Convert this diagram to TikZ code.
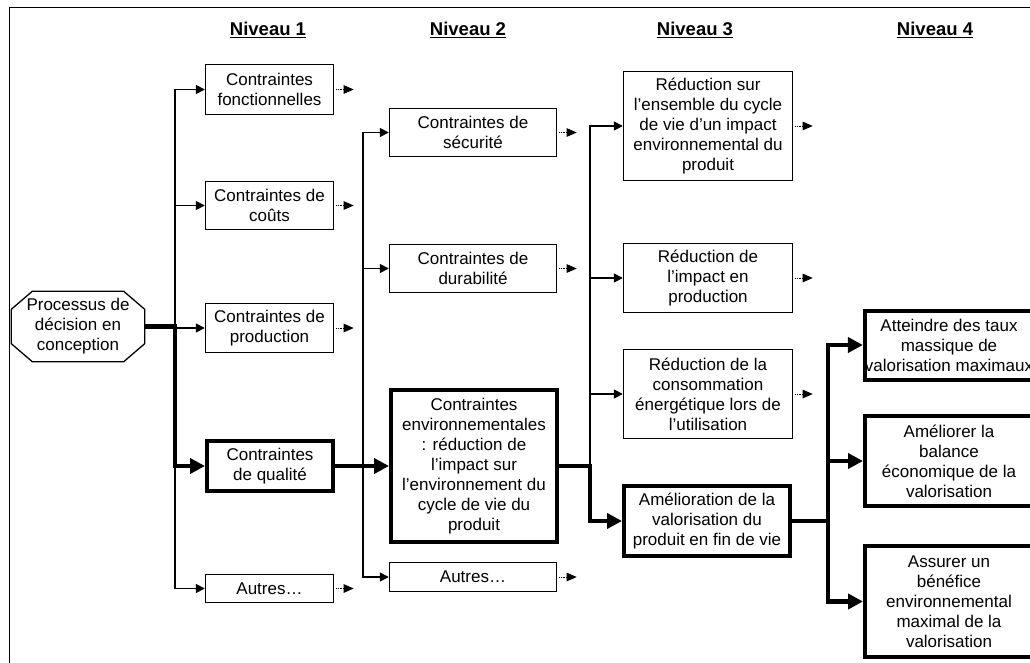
\documentclass[tikz,border=0pt]{standalone}
\usepackage{fontspec}
\setmainfont{Liberation Sans}
\usetikzlibrary{arrows.meta,calc}
\begin{document}
\begin{tikzpicture}[x=1pt,y=-1pt,
  box/.style={draw, line width=1.4pt, align=center, inner sep=0pt, font=\fontsize{17}{20}\selectfont},
  tbox/.style={box, line width=4pt},
  thinline/.style={line width=1.5pt, line cap=rect},
  thinarrow/.style={line width=1.5pt, -{Triangle[length=9pt,width=9pt]}},
  thickline/.style={line width=4.5pt, line cap=rect},
  thickarrow/.style={line width=4.5pt, -{Triangle[length=15pt,width=15pt]}},
  dotarrow/.style={line width=0.9pt, densely dotted, -{Triangle[length=10pt,width=8.5pt]}},
  head/.style={font=\fontsize{18.5}{20}\selectfont\bfseries, inner sep=0pt}
]
\clip (0,0) rectangle (1030,662);
\draw[line width=1pt] (9,670) -- (9,7) -- (1040,7);

% headers
\node[head] (h1) at (268,30) {\underline{Niveau 1}};
\node[head] (h2) at (468,30) {\underline{Niveau 2}};
\node[head] (h3) at (695,30) {\underline{Niveau 3}};
\node[head] (h4) at (935,30) {\underline{Niveau 4}};

% root
\node[box, draw=none, minimum width=132pt, minimum height=69pt] (proc) at (78,326.5) {Processus de\\d\'ecision en\\conception};
\draw[line width=1.3pt]
  ($(proc.north west)+(21,0)$) -- ($(proc.north east)+(-21,0)$) --
  ($(proc.north east)+(0,18)$) -- ($(proc.south east)+(0,-18)$) --
  ($(proc.south east)+(-21,0)$) -- ($(proc.south west)+(21,0)$) --
  ($(proc.south west)+(0,-18)$) -- ($(proc.north west)+(0,18)$) -- cycle;

% level 1
\node[box, minimum width=128pt, minimum height=50pt] (fonct) at (269.5,89.5) {Contraintes\\fonctionnelles};
\node[box, minimum width=128pt, minimum height=48pt] (couts) at (269.5,205.5) {Contraintes de\\co\^uts};
\node[box, minimum width=128pt, minimum height=49pt] (prod) at (269.5,328) {Contraintes de\\production};
\node[tbox, minimum width=126pt, minimum height=50pt] (qual) at (270,466) {Contraintes\\de qualit\'e};
\node[box, minimum width=128pt, minimum height=28pt] (autresA) at (269.5,588.5) {Autres…};

% level 2
\node[box, minimum width=167pt, minimum height=48pt] (secu) at (473,132.5) {Contraintes de\\s\'ecurit\'e};
\node[box, minimum width=167pt, minimum height=48pt] (dura) at (473,268.5) {Contraintes de\\durabilit\'e};
\node[tbox, minimum width=166pt, minimum height=152pt] (env) at (474,466) {Contraintes\\environnementales\\: r\'eduction de\\l’impact sur\\l'environnement du\\cycle de vie du\\produit};
\node[box, minimum width=167pt, minimum height=29pt] (autresB) at (473,577) {Autres…};

% level 3
\node[box, minimum width=169pt, minimum height=109pt] (ens) at (708,126) {R\'eduction sur\\l’ensemble du cycle\\de vie d’un impact\\environnemental du\\produit};
\node[box, minimum width=169pt, minimum height=69pt] (imp) at (708,278) {R\'eduction de\\l’impact en\\production};
\node[box, minimum width=169pt, minimum height=89pt] (cons) at (708,394) {R\'eduction de la\\consommation\\\'energ\'etique lors de\\l’utilisation};
\node[tbox, minimum width=166pt, minimum height=70pt] (amel) at (707,521) {Am\'elioration de la\\valorisation du\\produit en fin de vie};

% level 4
\node[tbox, minimum width=168pt, minimum height=69pt] (att) at (949,345) {Atteindre des taux\\massique de\\valorisation maximaux};
\node[tbox, minimum width=168pt, minimum height=90pt] (ame) at (949,461) {Am\'eliorer la\\balance\\\'economique de la\\valorisation};
\node[tbox, minimum width=168pt, minimum height=111pt] (ass) at (949,601.5) {Assurer un\\b\'en\'efice\\environnemental\\maximal de la\\valorisation};

% trunk coordinates
\coordinate (t1) at (175,0);
\coordinate (t2) at (363,0);
\coordinate (t3) at (590,0);
\coordinate (t4) at (828,0);

% level 1 connectors
\draw[thinline] (t1 |- fonct.west) -- (t1 |- autresA.west);
\foreach \n in {fonct,couts,prod,autresA} \draw[thinarrow] (t1 |- \n.west) -- (\n.west);
\draw[thickarrow] (proc.east) -- (proc.east -| t1) |- (qual.west);

% level 2 connectors
\draw[thinline] (t2 |- secu.west) -- (t2 |- autresB.west);
\foreach \n in {secu,dura,autresB} \draw[thinarrow] (t2 |- \n.west) -- (\n.west);
\draw[thickarrow] (qual.east) -- (env.west);

% level 3 connectors
\draw[thinline] (t3 |- ens.west) -- (t3 |- env.east);
\foreach \n in {ens,imp,cons} \draw[thinarrow] (t3 |- \n.west) -- (\n.west);
\draw[thickarrow] (env.east) -- (env.east -| t3) |- (amel.west);

% level 4 connectors
\draw[thickline] (t4 |- att.west) -- (t4 |- ass.west);
\draw[line width=4.5pt] (amel.east) -- (amel.east -| t4);
\foreach \n in {att,ame,ass} \draw[thickarrow] (t4 |- \n.west) -- (\n.west);

% dotted continuation arrows
\foreach \n in {fonct,couts,prod,autresA,secu,dura,autresB,ens,imp,cons}
  \draw[dotarrow] ([xshift=1.5pt]\n.east) -- ++(18,0);
\end{tikzpicture}
\end{document}
